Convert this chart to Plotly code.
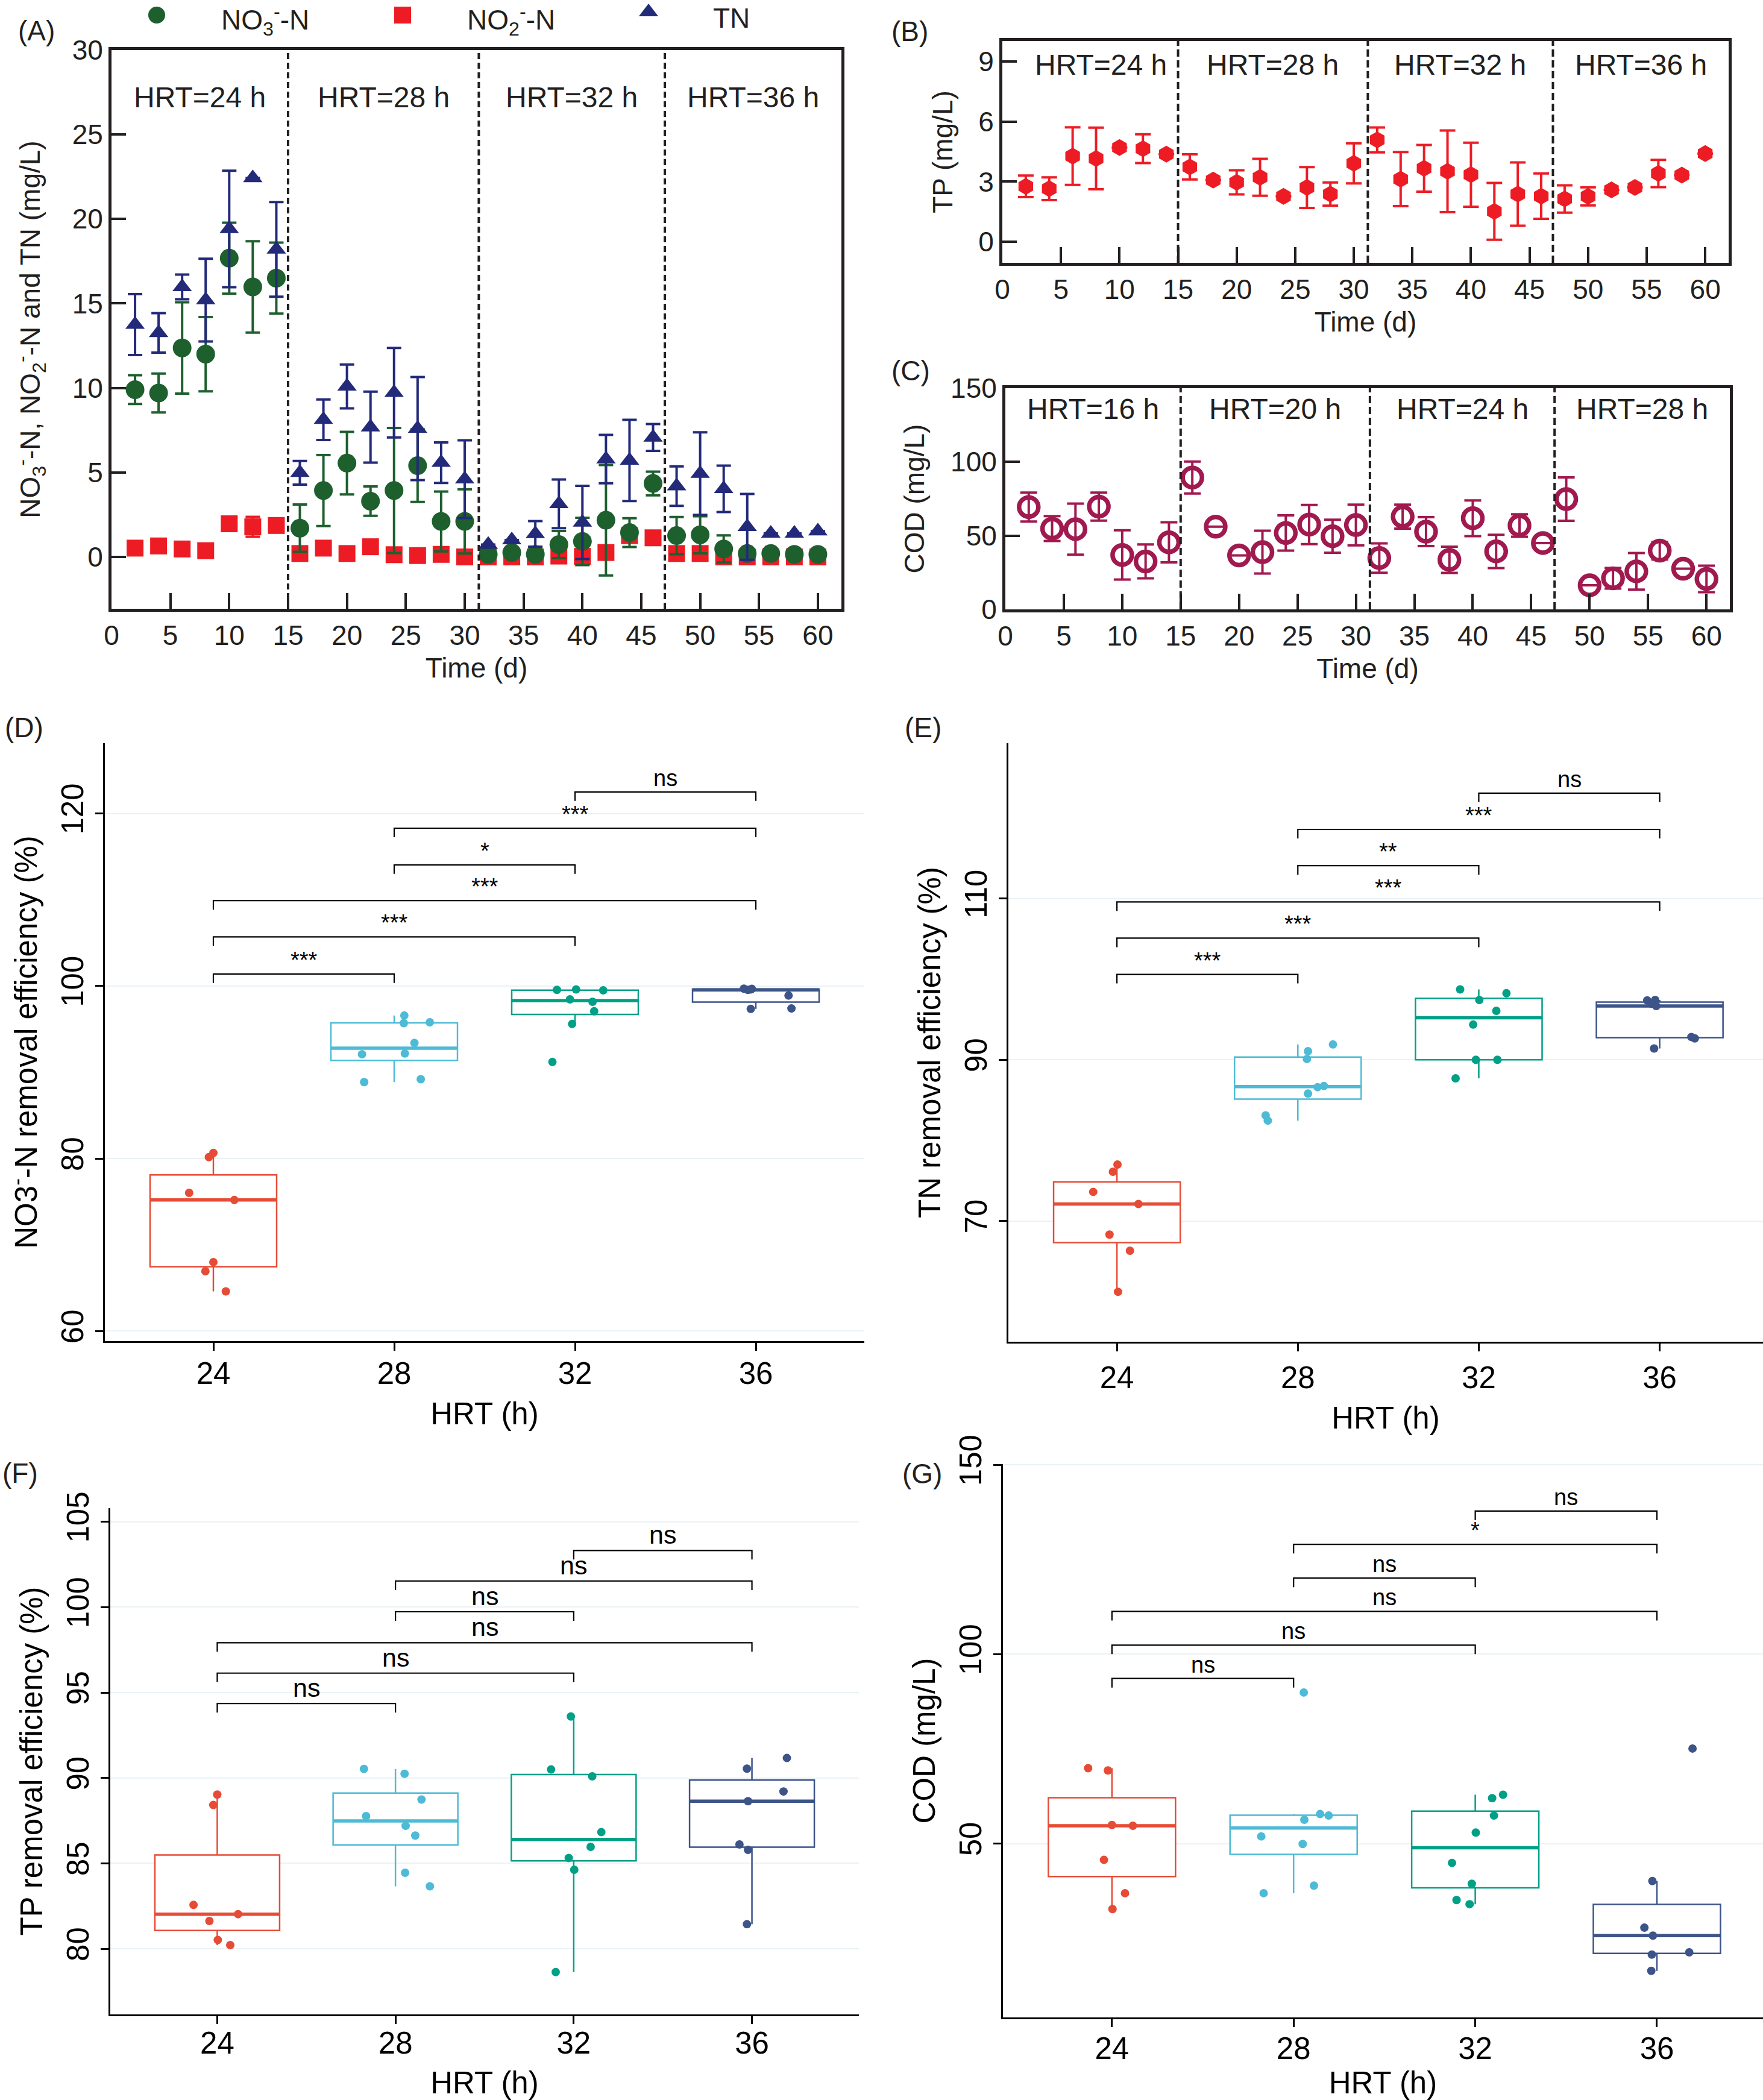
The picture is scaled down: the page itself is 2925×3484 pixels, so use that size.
import numpy as np
import plotly.graph_objects as go

W, H = 2925, 3484
FONT = "Liberation Sans, Arial, sans-serif"
INK = "#231F20"

# ---------------- data: time series (panels A-C) ----------------
days = list(range(2, 61, 2))

no3_n = [9.9, 9.7, 12.37, 12.0, 17.68, 15.98, 16.5, 1.7, 3.93, 5.55, 3.3, 3.93, 5.4, 2.1, 2.1,
         0.15, 0.26, 0.15, 0.73, 0.92, 2.17, 1.44, 4.35, 1.26, 1.31, 0.47, 0.2, 0.2, 0.15, 0.15]
no3_n_err = [0.85, 1.15, 2.7, 2.2, 2.1, 2.7, 2.1, 1.4, 2.1, 1.85, 0.87, 3.7, 2.15, 1.77, 1.9,
             0, 0, 0, 0.8, 1.4, 3.27, 0.85, 0.7, 1.1, 1.1, 0.8, 0, 0, 0, 0]
no2_n = [0.52, 0.65, 0.47, 0.37, 1.96, 1.78, 1.86, 0.2, 0.52, 0.2, 0.6, 0.13, 0.08, 0.15, 0.0,
         0.0, 0.0, 0.0, 0.05, 0.03, 0.26, 1.26, 1.13, 0.2, 0.2, 0.0, 0.0, 0.0, 0.0, 0.0]
no2_n_err = [0, 0, 0, 0, 0, 0.59, 0, 0, 0, 0, 0, 0, 0, 0, 0,
             0, 0, 0, 0, 0, 0, 0, 0, 0, 0, 0, 0, 0, 0, 0]
tn = [13.75, 13.26, 15.98, 15.2, 19.41, 22.43, 18.2, 4.98, 8.12, 10.09, 7.68, 9.72, 7.6, 5.58, 4.6,
      0.73, 1.0, 1.36, 3.14, 2.04, 5.79, 5.71, 7.07, 4.19, 4.93, 4.03, 1.78, 1.39, 1.39, 1.52]
tn_err = [1.8, 1.17, 0.73, 2.45, 3.45, 0, 2.8, 0.7, 1.2, 1.3, 2.1, 2.65, 3.05, 1.2, 2.3,
          0, 0, 0.76, 1.44, 2.17, 1.43, 2.4, 0.79, 1.17, 2.44, 1.37, 1.95, 0, 0, 0]
tp = [2.77, 2.65, 4.28, 4.16, 4.71, 4.65, 4.38, 3.74, 3.08, 2.97, 3.22, 2.27, 2.71, 2.38, 3.92,
      5.09, 3.13, 3.67, 3.52, 3.35, 1.52, 2.38, 2.28, 2.14, 2.27, 2.59, 2.71, 3.41, 3.33, 4.41]
tp_err = [0.54, 0.57, 1.44, 1.54, 0, 0.72, 0, 0.63, 0, 0.6, 0.92, 0, 1.02, 0.58, 1.0,
          0.62, 1.35, 1.17, 2.04, 1.6, 1.42, 1.58, 1.13, 0.68, 0.45, 0, 0, 0.68, 0, 0]
cod = [69.4, 54.8, 54.4, 69.7, 36.9, 32.5, 45.5, 89.4, 56.1, 36.6, 38.8, 51.8, 57.5, 49.6, 57.2,
       34.8, 62.9, 52.7, 33.6, 61.8, 39.3, 56.9, 45.0, 74.8, 16.3, 21.1, 25.8, 39.8, 27.6, 20.6]
cod_err = [9.8, 8.4, 17.3, 9.5, 16.7, 11.5, 13.6, 10.8, 0, 0, 14.5, 12.0, 13.3, 11.2, 13.8,
           10.0, 8.1, 9.8, 8.9, 12.1, 11.3, 7.6, 0, 14.7, 0, 7.0, 12.4, 6.0, 0, 9.0]

phase_bounds = [15, 31.2, 47]
phase_labels_n = ["HRT=24 h", "HRT=28 h", "HRT=32 h", "HRT=36 h"]
phase_labels_cod = ["HRT=16 h", "HRT=20 h", "HRT=24 h", "HRT=28 h"]

# ---------------- data: box plots (panels D-G) ----------------
hrt_groups = ["24", "28", "32", "36"]

no3_removal = [[80.66, 80.17, 76.03, 75.2, 68.0, 66.94, 64.6],
               [96.58, 95.7, 95.8, 93.4, 92.1, 92.18, 88.87, 89.2],
               [99.56, 99.6, 99.5, 98.46, 98.18, 97.08, 95.6, 91.2],
               [99.7, 99.67, 99.6, 98.9, 97.35, 97.4, 99.56]]
tn_removal = [[77.0, 76.1, 73.6, 72.1, 68.3, 66.3, 61.2],
              [91.06, 90.1, 91.9, 86.6, 86.75, 85.8, 83.1, 82.45],
              [98.73, 97.43, 98.26, 96.08, 94.37, 90.0, 90.0, 87.7],
              [97.37, 97.43, 96.67, 96.96, 92.83, 92.65, 91.4]]
tp_removal = [[89.03, 88.42, 82.57, 82.03, 81.63, 80.52, 80.22],
              [90.53, 90.25, 88.74, 87.77, 87.2, 86.63, 84.45, 83.66],
              [93.6, 90.5, 90.1, 86.83, 85.97, 85.32, 84.63, 78.64],
              [91.17, 90.55, 89.21, 88.64, 86.11, 85.79, 81.44]]
cod_effluent = [[69.9, 69.3, 54.9, 54.7, 45.7, 36.9, 32.7],
                [89.9, 57.8, 57.4, 56.3, 51.9, 49.9, 38.9, 36.9],
                [62.9, 62.0, 57.4, 52.9, 44.9, 39.4, 35.1, 34.0],
                [75.1, 40.1, 27.8, 25.7, 21.3, 20.7, 16.4]]

# horizontal jitter of the points (category units), as seen in the picture
jit_d = [[0, -0.025, -0.134, 0.116, 0, -0.044, 0.069],
         [0.056, 0.053, 0.197, 0.112, -0.178, 0.059, -0.166, 0.147],
         [-0.1, 0.006, 0.156, -0.028, 0.097, 0.106, -0.016, -0.125],
         [-0.066, -0.022, -0.028, 0.181, -0.028, 0.197, -0.044]]
jit_e = [[0.003, -0.022, -0.131, 0.119, -0.041, 0.072, 0.006],
         [0.056, 0.05, 0.194, 0.109, 0.144, 0.056, -0.178, -0.166],
         [-0.103, 0.003, 0.153, 0.097, -0.031, -0.016, 0.103, -0.128],
         [-0.069, -0.025, -0.019, -0.044, 0.175, 0.194, -0.031]]
jit_f = [[0, -0.022, -0.133, 0.117, -0.044, 0.003, 0.073],
         [-0.177, 0.051, 0.146, -0.165, 0.057, 0.111, 0.054, 0.193],
         [-0.016, -0.127, 0.104, 0.155, 0.095, -0.028, 0.003, -0.101],
         [0.196, -0.028, 0.177, -0.022, -0.07, -0.022, -0.028]]
jit_g = [[-0.131, -0.022, 0, 0.115, -0.044, 0.072, 0.003],
         [0.056, 0.146, 0.193, 0.059, -0.178, 0.05, 0.112, -0.165],
         [0.153, 0.093, 0.103, 0.003, -0.128, -0.019, -0.103, -0.031],
         [0.196, -0.025, -0.069, -0.022, 0.178, -0.028, -0.031]]

sig_pairs = [(0, 1), (0, 2), (0, 3), (1, 2), (1, 3), (2, 3)]
sig_d = ["***", "***", "***", "*", "***", "ns"]
sig_e = ["***", "***", "***", "**", "***", "ns"]
sig_f = ["ns", "ns", "ns", "ns", "ns", "ns"]
sig_g = ["ns", "ns", "ns", "ns", "*", "ns"]
sig_lev_d = [101.4, 105.7, 109.9, 114.05, 118.3, 122.5]
sig_lev_e = [100.6, 105.1, 109.6, 114.1, 118.6, 123.1]
sig_lev_f = [94.36, 96.14, 97.92, 99.73, 101.53, 103.32]
sig_lev_g = [93.6, 102.4, 111.3, 120.1, 129.0, 137.8]

# ---------------- styles ----------------
C_NO3, C_NO2, C_TN, C_TP, C_COD = "#1E5F2E", "#ED1C24", "#232A7A", "#ED1C24", "#A0194F"
BOX_COLORS = ["#E64B35", "#4DBBD5", "#00A087", "#3C5488"]


def fx(p):
    return p / W


def fy(p):
    return 1 - p / H


fig = go.Figure()
shapes, annos = [], []


def ts_axes(k, xdom, ydom, yr, ytv, ytitle, ystand):
    ax = dict(domain=[fx(xdom[0]), fx(xdom[1])], range=[0, 62], tickvals=list(range(0, 61, 5)),
              ticks="inside", ticklen=26, tickwidth=4, tickcolor=INK, showline=True, linewidth=5,
              linecolor=INK, mirror=True, showgrid=False, zeroline=False,
              tickfont=dict(family=FONT, size=46, color=INK),
              title=dict(text="Time (d)", font=dict(family=FONT, size=46, color=INK), standoff=14),
              anchor=f"y{k if k > 1 else ''}")
    ay = dict(domain=[fy(ydom[1]), fy(ydom[0])], range=yr, tickvals=ytv,
              ticks="inside", ticklen=24, tickwidth=4, tickcolor=INK, showline=True, linewidth=5,
              linecolor=INK, mirror=True, showgrid=False, zeroline=False,
              tickfont=dict(family=FONT, size=46, color=INK),
              title=dict(text=ytitle, font=dict(family=FONT, size=46, color=INK), standoff=ystand),
              anchor=f"x{k if k > 1 else ''}")
    return ax, ay


def phases(k, labels, ylab, dash, shift):
    xr = f"x{k if k > 1 else ''}"
    yr = f"y{k if k > 1 else ''}"
    for b in phase_bounds:
        shapes.append(dict(type="line", xref=xr, yref=yr + " domain", x0=b, x1=b, y0=0, y1=1,
                           line=dict(color=INK, width=4, dash=dash)))
    edges = [0] + phase_bounds + [62]
    for i, t in enumerate(labels):
        annos.append(dict(x=(edges[i] + edges[i + 1]) / 2 + shift[i], y=ylab, xref=xr, yref=yr, text=t,
                          showarrow=False, font=dict(family=FONT, size=48, color=INK)))


def err_scatter(k, y, err, color, symbol, size, capw, name, line=None):
    sfx = k if k > 1 else ""
    mk = dict(color=color, size=size, symbol=symbol)
    if line:
        mk["line"] = line
    fig.add_trace(go.Scatter(x=days, y=y, mode="markers", name=name, marker=mk,
                             error_y=dict(type="data", array=err, visible=True, color=color,
                                          thickness=4, width=capw),
                             xaxis=f"x{sfx}", yaxis=f"y{sfx}", showlegend=False))


# ---- Panel A ----
err_scatter(1, no2_n, no2_n_err, C_NO2, "square", 28, 12, "NO2")
err_scatter(1, no3_n, no3_n_err, C_NO3, "circle", 31, 12, "NO3")
err_scatter(1, tn, tn_err, C_TN, "triangle-up", 28, 12, "TN")
axA, ayA = ts_axes(1, (185, 1396), (83, 1010), [-3.07, 30], list(range(0, 31, 5)),
                   "NO<sub>3</sub><sup>-</sup>-N, NO<sub>2</sub><sup>-</sup>-N and TN (mg/L)", 40)
phases(1, phase_labels_n, 27.2, "10px,6px", [0, 0, 0, 0])

# ---- Panel B ----
err_scatter(2, tp, tp_err, C_TP, "hexagon", 28, 13, "TP")
axB, ayB = ts_axes(2, (1663, 2868), (68, 436), [-1.05, 10.03], [0, 3, 6, 9], "TP (mg/L)", 30)
phases(2, phase_labels_n, 8.85, "12px,6px", [0.9, 0, 0, 0])

# ---- Panel C ----
err_scatter(3, cod, cod_err, C_COD, "circle-open", 32, 14, "COD", line=dict(color=C_COD, width=7.5))
axC, ayC = ts_axes(3, (1668, 2870), (644, 1011), [0, 150], [0, 50, 100, 150], "COD (mg/L)", 30)
phases(3, phase_labels_cod, 135.7, "12px,6px", [0, 0, 0, 0])

# ---- manual legend for panel A (legend axis in pixel units) ----
leg_items = [("NO<sub>3</sub><sup>-</sup>-N", C_NO3, "circle"),
             ("NO<sub>2</sub><sup>-</sup>-N", C_NO2, "square"),
             ("TN", C_TN, "triangle-up")]
leg_x0, leg_dx = 260, 408
for i, (t, c, s) in enumerate(leg_items):
    xm = leg_x0 + i * leg_dx
    tri = s == "triangle-up"
    fig.add_trace(go.Scatter(x=[xm], y=[20 if tri else 25], mode="markers",
                             marker=dict(color=c, size=28, symbol=s),
                             xaxis="x8", yaxis="y8", showlegend=False, hoverinfo="skip"))
    annos.append(dict(x=xm + 105, y=30 if tri else 33, xref="x8", yref="y8", text=t,
                      xanchor="left", showarrow=False, font=dict(family=FONT, size=46, color=INK)))


# ---- box panels ----
def box_panel(k, groups, jits, levels, labels, xdom, ydom, xr, yr, ytv, ytitle, sig_size, tip_px,
              lab_shift):
    xa, ya = f"x{k}", f"y{k}"
    for i, (vals, jit) in enumerate(zip(groups, jits)):
        v = np.array(vals, dtype=float)
        q1, med, q3 = np.percentile(v, [25, 50, 75])
        iqr = q3 - q1
        lf = v[v >= q1 - 1.5 * iqr].min()
        uf = v[v <= q3 + 1.5 * iqr].max()
        c = BOX_COLORS[i]
        fig.add_trace(go.Box(x=[i], q1=[q1], median=[med], q3=[q3], lowerfence=[lf], upperfence=[uf],
                             width=0.7, whiskerwidth=0, boxpoints=False, fillcolor="white",
                             line=dict(color=c, width=2.5), xaxis=xa, yaxis=ya, showlegend=False))
        fig.add_trace(go.Scatter(x=[i - 0.35, i + 0.35], y=[med, med], mode="lines",
                                 line=dict(color=c, width=5.5), xaxis=xa, yaxis=ya,
                                 showlegend=False, hoverinfo="skip"))
        fig.add_trace(go.Scatter(x=i + np.array(jit), y=v, mode="markers",
                                 marker=dict(color=c, size=14), xaxis=xa, yaxis=ya,
                                 showlegend=False))
    ph = ydom[1] - ydom[0]
    tip = tip_px * (yr[1] - yr[0]) / ph
    for (a, b), lev, lab in zip(sig_pairs, levels, labels):
        shapes.append(dict(type="path", xref=xa, yref=ya,
                           path=f"M {a},{lev - tip} L {a},{lev} L {b},{lev} L {b},{lev - tip}",
                           line=dict(color="black", width=2.2)))
        annos.append(dict(x=(a + b) / 2, y=lev, xref=xa, yref=ya, text=lab, showarrow=False,
                          yanchor="bottom", font=dict(family=FONT, size=sig_size, color="black")))
    ax = dict(domain=[fx(xdom[0]), min(1.0, fx(xdom[1]))], range=xr, tickvals=[0, 1, 2, 3],
              ticktext=hrt_groups, ticks="outside", ticklen=13, tickwidth=2.5, tickcolor="black",
              showline=True, linewidth=2.5, linecolor="black", showgrid=False, zeroline=False,
              ticklabelstandoff=lab_shift,
              tickfont=dict(family=FONT, size=51, color="black"),
              title=dict(text="HRT (h)", font=dict(family=FONT, size=51, color="black"), standoff=22),
              anchor=ya)
    ay = dict(domain=[fy(ydom[1]), fy(ydom[0])], range=yr, tickvals=ytv, tickangle=-90,
              ticks="outside", ticklen=13, tickwidth=2.5, tickcolor="black",
              showline=True, linewidth=2.5, linecolor="black", showgrid=True, gridcolor="#EBF2F5",
              gridwidth=2, zeroline=False, tickfont=dict(family=FONT, size=51, color="black"),
              title=dict(text=ytitle, font=dict(family=FONT, size=51, color="black"), standoff=14),
              anchor=xa)
    return ax, ay


axD, ayD = box_panel(4, no3_removal, jit_d, sig_lev_d, sig_d, (174, 1434), (1233, 2225),
                     [-0.6, 3.6], [58.84, 128.15], [60, 80, 100, 120],
                     "NO3<sup>-</sup>-N removal efficiency (%)", 38, 15, -6)
axE, ayE = box_panel(5, tn_removal, jit_e, sig_lev_e, sig_e, (1673, 2925), (1233, 2226),
                     [-0.6, 3.571], [55, 129.3], [70, 90, 110],
                     "TN removal efficiency (%)", 38, 15, 0)
axF, ayF = box_panel(6, tp_removal, jit_f, sig_lev_f, sig_f, (183, 1425), (2502, 3342),
                     [-0.6, 3.6], [76.16, 105.8], [80, 85, 90, 95, 100, 105],
                     "TP removal efficiency (%)", 43, 15, -12)
axG, ayG = box_panel(7, cod_effluent, jit_g, sig_lev_g, sig_g, (1664, 2925), (2429, 3347),
                     [-0.6, 3.584], [4.1, 150.2], [50, 100, 150],
                     "COD (mg/L)", 38, 15, -8)

# panel letters
for t, (px, py) in {"(A)": (60, 51), "(B)": (1509, 52), "(C)": (1511, 615), "(D)": (40, 1207),
                    "(E)": (1531, 1207), "(F)": (33, 2444), "(G)": (1530, 2445)}.items():
    annos.append(dict(x=fx(px), y=fy(py), xref="paper", yref="paper", text=t, showarrow=False,
                      xanchor="center", yanchor="middle", font=dict(family=FONT, size=46, color=INK)))

fig.update_layout(
    width=W, height=H, margin=dict(l=0, r=0, t=0, b=0), template="none",
    paper_bgcolor="white", plot_bgcolor="white", showlegend=False,
    xaxis=axA, yaxis=ayA, xaxis2=axB, yaxis2=ayB, xaxis3=axC, yaxis3=ayC,
    xaxis4=axD, yaxis4=ayD, xaxis5=axE, yaxis5=ayE, xaxis6=axF, yaxis6=ayF, xaxis7=axG, yaxis7=ayG,
    xaxis8=dict(domain=[0, 1], range=[0, W], visible=False, fixedrange=True, anchor="y8"),
    yaxis8=dict(domain=[fy(60), 1], range=[60, 0], visible=False, fixedrange=True, anchor="x8"),
    shapes=shapes, annotations=annos,
)

fig.write_html("out.html")
